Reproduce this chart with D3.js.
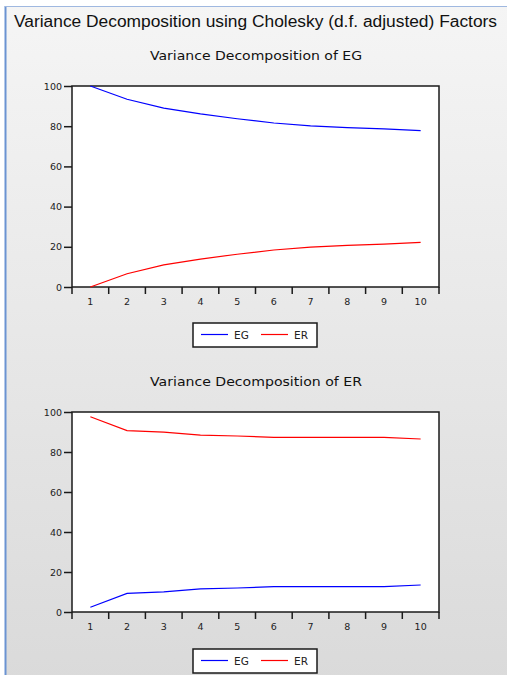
<!DOCTYPE html>
<html>
<head>
<meta charset="utf-8">
<script src="https://cdn.jsdelivr.net/npm/d3@7"></script>
<style>
  html, body { margin: 0; padding: 0; background: #ffffff; }
  svg { display: block; }
</style>
</head>
<body>
<script>
// Data
const periods = [1, 2, 3, 4, 5, 6, 7, 8, 9, 10];
const yTicks = [0, 20, 40, 60, 80, 100];
const seriesNames = ['EG', 'ER'];
const seriesColors = ['#0000ff', '#ff0000'];

// Variance decomposition of EG
const egOfEG = [100, 93.4, 89.0, 86.1, 83.7, 81.6, 80.2, 79.3, 78.7, 77.8];
const erOfEG = [0, 6.6, 11.0, 13.9, 16.3, 18.4, 19.8, 20.7, 21.3, 22.2];

// Variance decomposition of ER
const egOfER = [2.4, 9.3, 10.1, 11.6, 12.0, 12.7, 12.7, 12.7, 12.7, 13.5];
const erOfER = [97.6, 90.7, 89.9, 88.4, 88.0, 87.3, 87.3, 87.3, 87.3, 86.5];

const W = 507, H = 675;

const svg = d3.select('body').append('svg')
  .attr('width', W)
  .attr('height', H);

// background gradient panel
const defs = svg.append('defs');
const grad = defs.append('linearGradient')
  .attr('id', 'bg')
  .attr('x1', 0).attr('y1', 0).attr('x2', 0).attr('y2', 1);
grad.append('stop').attr('offset', '0%').attr('stop-color', '#f5f5f5');
grad.append('stop').attr('offset', '100%').attr('stop-color', '#dadada');

svg.append('rect')
  .attr('x', 5).attr('y', 6)
  .attr('width', W).attr('height', H)
  .attr('fill', 'url(#bg)');

// frame border (left and top)
svg.append('line')
  .attr('x1', 5.5).attr('y1', 6).attr('x2', 5.5).attr('y2', H)
  .attr('stroke', '#6b93d2').attr('stroke-width', 2);
svg.append('line')
  .attr('x1', 5).attr('y1', 6.5).attr('x2', W).attr('y2', 6.5)
  .attr('stroke', '#9fb8e0').attr('stroke-width', 1);

// Main title
svg.append('text')
  .attr('x', 14)
  .attr('y', 27)
  .attr('font-family', 'Liberation Sans, Arial, sans-serif')
  .attr('font-size', 16)
  .attr('fill', '#111')
  .attr('textLength', 483)
  .attr('lengthAdjust', 'spacingAndGlyphs')
  .text('Variance Decomposition using Cholesky (d.f. adjusted) Factors');

const panels = [
  { title: 'Variance Decomposition of EG', top: 86, bottom: 287, titleY: 60, legendY: 323, series: [egOfEG, erOfEG] },
  { title: 'Variance Decomposition of ER', top: 412, bottom: 612, titleY: 386, legendY: 649, series: [egOfER, erOfER] }
];

const left = 72, right = 439;
const font = 'DejaVu Sans, Verdana, sans-serif';

panels.forEach(p => {
  const x = d3.scaleBand().domain(periods).range([left, right]).padding(0);
  const y = d3.scaleLinear().domain([0, 100]).range([p.bottom, p.top]);

  // subtitle
  svg.append('text')
    .attr('x', 150)
    .attr('y', p.titleY)
    .attr('font-family', font)
    .attr('font-size', 12)
    .attr('fill', '#111')
    .attr('textLength', 212)
    .attr('lengthAdjust', 'spacingAndGlyphs')
    .text(p.title);

  // plot area
  svg.append('rect')
    .attr('x', left).attr('y', p.top)
    .attr('width', right - left).attr('height', p.bottom - p.top)
    .attr('fill', '#ffffff')
    .attr('stroke', '#1a1a1a')
    .attr('stroke-width', 1.5);

  // y axis
  const yAxis = svg.append('g')
    .attr('transform', `translate(${left},0)`)
    .call(d3.axisLeft(y).tickValues(yTicks).tickSize(8).tickPadding(2));
  yAxis.select('.domain').remove();
  yAxis.selectAll('line').attr('stroke', '#1a1a1a').attr('stroke-width', 1.5);
  yAxis.selectAll('text')
    .attr('font-family', font)
    .attr('font-size', 9.5)
    .attr('fill', '#222');

  // x axis labels (centered in bands)
  const xAxis = svg.append('g')
    .attr('transform', `translate(0,${p.bottom})`)
    .call(d3.axisBottom(x).tickSize(0).tickPadding(11));
  xAxis.select('.domain').remove();
  xAxis.selectAll('text')
    .attr('font-family', font)
    .attr('font-size', 9.5)
    .attr('fill', '#222');

  // x tick marks at band boundaries
  const edges = periods.map(d => x(d)).concat([x.range()[1]]);
  svg.append('g').selectAll('line')
    .data(edges)
    .join('line')
    .attr('x1', d => d).attr('x2', d => d)
    .attr('y1', p.bottom).attr('y2', p.bottom + 7)
    .attr('stroke', '#1a1a1a')
    .attr('stroke-width', 1.5);

  // lines
  const line = d3.line()
    .x((d, i) => x(periods[i]) + x.bandwidth() / 2)
    .y(d => y(d));

  p.series.forEach((s, i) => {
    svg.append('path')
      .datum(s)
      .attr('d', line)
      .attr('fill', 'none')
      .attr('stroke', seriesColors[i])
      .attr('stroke-width', 1.2);
  });

  // legend
  const lg = svg.append('g').attr('transform', `translate(193,${p.legendY})`);
  lg.append('rect')
    .attr('width', 124).attr('height', 24)
    .attr('fill', '#ffffff')
    .attr('stroke', '#1a1a1a')
    .attr('stroke-width', 1.5);
  seriesNames.forEach((name, i) => {
    const ox = 8 + i * 60;
    lg.append('line')
      .attr('x1', ox).attr('x2', ox + 27)
      .attr('y1', 11.5).attr('y2', 11.5)
      .attr('stroke', seriesColors[i])
      .attr('stroke-width', 1.2);
    lg.append('text')
      .attr('x', ox + 33)
      .attr('y', 15.5)
      .attr('font-family', font)
      .attr('font-size', 10.5)
      .attr('fill', '#222')
      .text(name);
  });
});
</script>
</body>
</html>
